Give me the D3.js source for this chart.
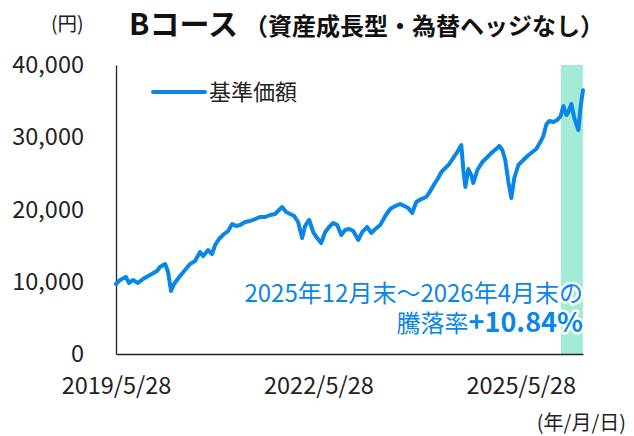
<!DOCTYPE html>
<html><head><meta charset="utf-8">
<script src="https://cdn.jsdelivr.net/npm/d3@7"></script>
<style>
body{margin:0;background:#fff;}
text{font-family:"Noto Sans CJK JP","Noto Sans",sans-serif;}
</style></head>
<body><svg id="c" width="634" height="436"></svg>
<script>
const dates = ["2019-05-28","2019-06-19","2019-07-21","2019-08-06","2019-08-28","2019-09-24","2019-10-21","2019-11-28","2020-01-05","2020-01-21","2020-02-18","2020-03-05","2020-03-21","2020-04-06","2020-05-09","2020-06-05","2020-07-02","2020-07-29","2020-08-25","2020-09-11","2020-10-08","2020-10-29","2020-11-15","2020-12-06","2021-01-02","2021-01-24","2021-02-15","2021-03-08","2021-03-30","2021-04-26","2021-05-23","2021-06-19","2021-07-16","2021-08-13","2021-09-09","2021-10-06","2021-10-27","2021-11-13","2021-12-04","2021-12-26","2022-01-17","2022-02-07","2022-03-01","2022-03-17","2022-04-08","2022-04-30","2022-05-21","2022-06-12","2022-07-04","2022-07-25","2022-08-16","2022-09-07","2022-09-29","2022-10-20","2022-11-11","2022-12-03","2022-12-30","2023-01-20","2023-02-16","2023-03-10","2023-04-01","2023-04-28","2023-05-25","2023-06-21","2023-07-18","2023-08-14","2023-09-05","2023-09-27","2023-10-18","2023-11-09","2023-12-06","2024-01-02","2024-01-24","2024-02-15","2024-03-07","2024-03-24","2024-04-14","2024-05-06","2024-05-28","2024-06-18","2024-07-10","2024-07-21","2024-08-01","2024-08-17","2024-09-02","2024-09-13","2024-10-05","2024-11-01","2024-11-28","2024-12-25","2025-01-21","2025-02-01","2025-02-17","2025-03-05","2025-03-22","2025-04-07","2025-04-23","2025-05-15","2025-06-11","2025-07-03","2025-07-30","2025-08-20","2025-09-11","2025-09-27","2025-10-14","2025-10-30","2025-11-21","2025-12-12","2025-12-30","2026-01-14","2026-01-30","2026-02-10","2026-02-26","2026-03-14","2026-03-25","2026-04-05","2026-04-16","2026-04-30"];
const navValues = [9690,10240,10660,9830,10240,9830,10380,10930,11490,12040,12460,11350,8720,9690,10800,11630,12460,12870,14120,13560,14390,13840,15090,15920,16610,17020,17990,17720,17850,18270,18410,18680,18960,18960,19240,19380,19930,20340,19650,19380,19100,18270,16050,17720,18550,16880,16050,15360,16880,17580,18130,17850,16470,17160,17300,17020,15780,16880,17580,16750,17300,17850,19100,20070,20480,20760,20480,20210,19510,21040,21450,21730,22560,23530,24360,25190,25740,26300,27130,27960,28930,25470,23110,25600,24770,23670,25470,26570,27260,27960,28510,28790,28230,26850,23800,21590,24360,26160,26850,27400,27960,28370,29340,30170,31830,32250,32110,32390,32940,34320,33080,33490,34600,32660,31830,31000,34050,36510];
const yTicks = [0,10000,20000,30000,40000];
const xTickDates = ["2019-05-28","2022-05-28","2025-05-28"];
const xTickLabels = ["2019/5/28","2022/5/28","2025/5/28"];
const shadeRange = ["2025-12-31","2026-04-30"];
const domainDates = ["2019-05-28","2026-04-30"];
const seriesName = "基準価額";
const titleMain = "Bコース";
const titleSub = "（資産成長型・為替ヘッジなし）";
const unitLabel = "(円)";
const dateUnit = "(年/月/日)";
const noteLine1 = "2025年12月末～2026年4月末の";
const noteLabel = "騰落率";
const noteValue = "+10.84%";

const parse = d3.timeParse("%Y-%m-%d");
const data = dates.map((d,i)=>({date:parse(d), v:navValues[i]}));
const svg = d3.select("#c");
const blue = "#0a86e6";
const L=116, R=583, T=65, B=354;
const x = d3.scaleTime().domain(domainDates.map(parse)).range([L,R]);
const y = d3.scaleLinear().domain([0,40000]).range([B,T]);

// shading
svg.append("rect")
  .attr("x", x(parse(shadeRange[0]))).attr("y", y(40000))
  .attr("width", x(parse(shadeRange[1])) - x(parse(shadeRange[0])))
  .attr("height", y(0)-y(40000))
  .attr("fill","#a3ead7");

// axes
const yAxis = d3.axisLeft(y).tickValues(yTicks).tickSize(0).tickPadding(32)
  .tickFormat(d3.format(","));
const gy = svg.append("g").attr("transform",`translate(${L},0)`).call(yAxis);
gy.select(".domain").attr("stroke","#222").attr("stroke-width",1.3);
gy.selectAll("text").attr("font-size",23.5).attr("fill","#222")
  .style("font-family",'"Noto Sans CJK JP"');

const xAxis = d3.axisBottom(x).tickValues(xTickDates.map(parse)).tickSize(0).tickPadding(23)
  .tickFormat((d,i)=>xTickLabels[i]);
const gx = svg.append("g").attr("transform",`translate(0,${B})`).call(xAxis);
gx.select(".domain").attr("stroke","#222").attr("stroke-width",1.3);
gx.selectAll("text").attr("font-size",23.5).attr("fill","#222")
  .style("font-family",'"Noto Sans CJK JP"');

// line
svg.append("path").datum(data)
  .attr("fill","none").attr("stroke",blue).attr("stroke-width",4)
  .attr("stroke-linejoin","round").attr("stroke-linecap","round")
  .attr("d", d3.line().x(d=>x(d.date)).y(d=>y(d.v)));

// legend
svg.append("line").attr("x1",153).attr("x2",205).attr("y1",92).attr("y2",92)
  .attr("stroke",blue).attr("stroke-width",4).attr("stroke-linecap","round");
svg.append("text").attr("x",209).attr("y",100).attr("font-size",22).attr("fill","#222").text(seriesName);

// title
svg.append("text").attr("x",51).attr("y",31).attr("font-size",19.5).attr("fill","#222").text(unitLabel);
const tt = svg.append("text").attr("x",129).attr("y",35).attr("font-weight","bold").attr("fill","#111");
tt.append("tspan").attr("font-size",30).text(titleMain);
tt.append("tspan").attr("font-size",24).attr("dx",6).text(titleSub);

// date unit
svg.append("text").attr("x",626).attr("y",430).attr("text-anchor","end").attr("font-size",20).attr("fill","#222").text(dateUnit);

// annotation
const halo = s => s.attr("stroke","#fff").attr("stroke-width",5).attr("stroke-linejoin","round").style("paint-order","stroke");
halo(svg.append("text").attr("x",583).attr("y",302).attr("text-anchor","end").attr("font-size",24).attr("fill",blue).text(noteLine1));
const n2 = svg.append("text").attr("x",583).attr("y",332).attr("text-anchor","end").attr("fill",blue);
halo(n2);
n2.append("tspan").attr("font-size",24).text(noteLabel);
n2.append("tspan").attr("font-size",27).attr("font-weight","bold").text(noteValue);
</script></body></html>
